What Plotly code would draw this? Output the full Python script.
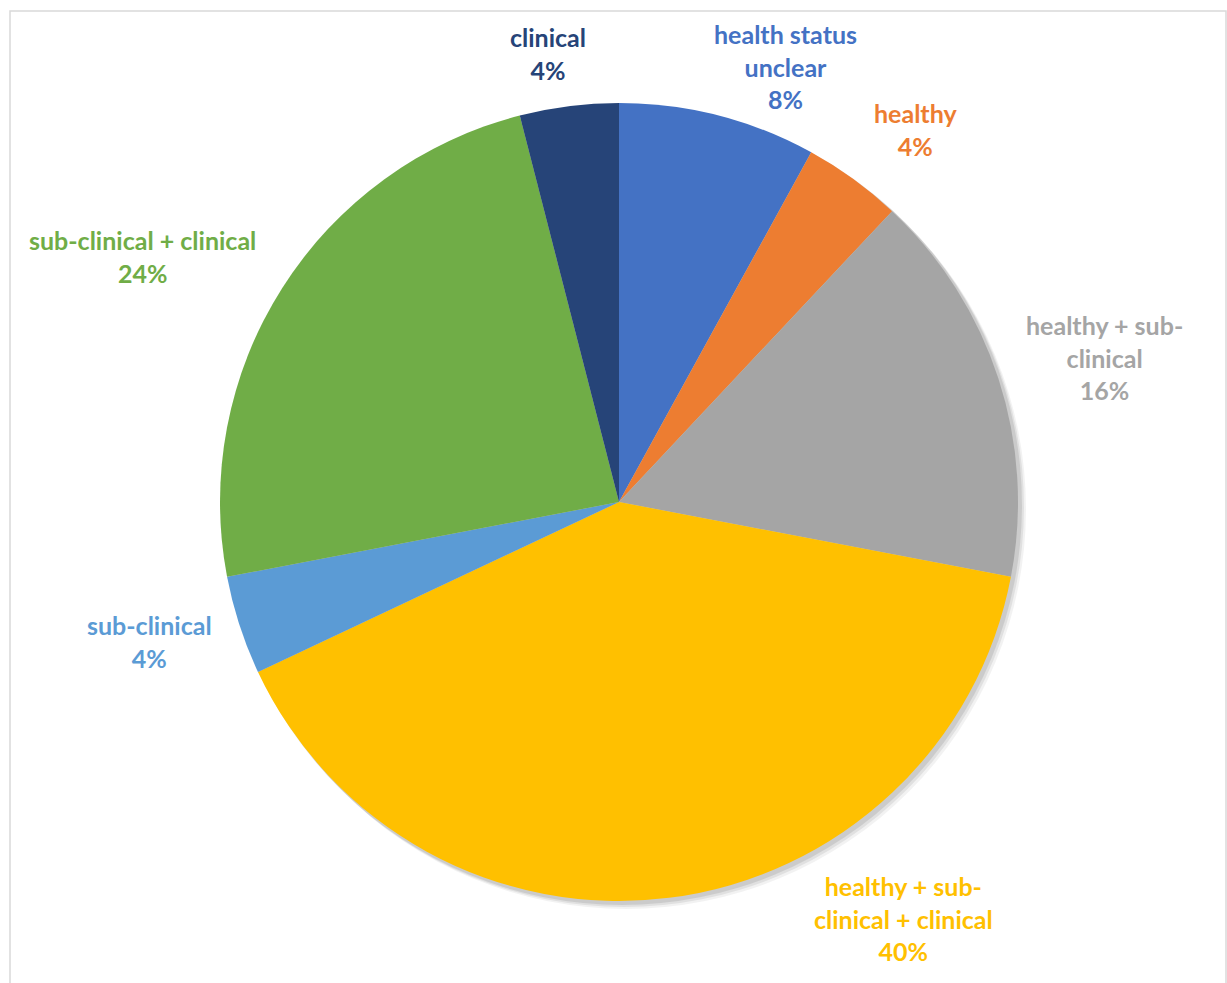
import plotly.graph_objects as go

# Share of studies by health status of the sampled population
categories = [
    "health status unclear",
    "healthy",
    "healthy + sub-clinical",
    "healthy + sub-clinical + clinical",
    "sub-clinical",
    "sub-clinical + clinical",
    "clinical",
]
display_labels = [
    "health status<br>unclear",
    "healthy",
    "healthy + sub-<br>clinical",
    "healthy + sub-<br>clinical + clinical",
    "sub-clinical",
    "sub-clinical + clinical",
    "clinical",
]
shares = [8, 4, 16, 40, 4, 24, 4]
colors = ["#4472C4", "#ED7D31", "#A5A5A5", "#FFC000", "#5B9BD5", "#70AD47", "#264478"]

W, H = 1227, 983
cx, cy, r = 619, 502, 399  # pie centre and radius in pixels

def px_x(x):
    return x / W

def px_y(y):
    return 1 - y / H

fig = go.Figure(
    go.Pie(
        labels=categories,
        values=shares,
        sort=False,
        direction="clockwise",
        rotation=0,
        marker=dict(colors=colors, line=dict(width=0)),
        textinfo="none",
        hoverinfo="label+percent",
        showlegend=False,
        domain=dict(x=[px_x(cx - r), px_x(cx + r)], y=[px_y(cy + r), px_y(cy - r)]),
    )
)

# soft drop shadow under the pie
for off, op in [(7, 0.05), (5, 0.07), (3, 0.09)]:
    fig.add_shape(
        type="circle", xref="paper", yref="paper", layer="below",
        x0=px_x(cx - r + off - 1), x1=px_x(cx + r + off + 1),
        y0=px_y(cy + r + off + 1), y1=px_y(cy - r + off - 1),
        fillcolor=f"rgba(0,0,0,{op})", line=dict(width=0),
    )

# label anchor points (pixel centres of each outside label)
label_pos = [(785, 66), (915, 130), (1104, 357), (903, 918), (149, 641), (142, 256), (548, 54)]
total = sum(shares)
for lab, val, col, (lx, ly) in zip(display_labels, shares, colors, label_pos):
    fig.add_annotation(
        x=px_x(lx), y=px_y(ly), xref="paper", yref="paper",
        text=f"<b>{lab}<br>{round(100 * val / total)}%</b>",
        showarrow=False, xanchor="center", yanchor="middle", align="center",
        font=dict(family="Lato", size=25, color=col),
    )

# chart frame (open at the bottom edge of the page)
fig.add_shape(
    type="rect", xref="paper", yref="paper",
    x0=px_x(10), x1=px_x(1226), y0=px_y(995), y1=px_y(11),
    line=dict(color="#D9D9D9", width=1.5), fillcolor="rgba(0,0,0,0)",
)

fig.update_layout(
    width=W, height=H,
    margin=dict(l=0, r=0, t=0, b=0),
    paper_bgcolor="white", plot_bgcolor="white",
)

fig.write_html("out.html")
